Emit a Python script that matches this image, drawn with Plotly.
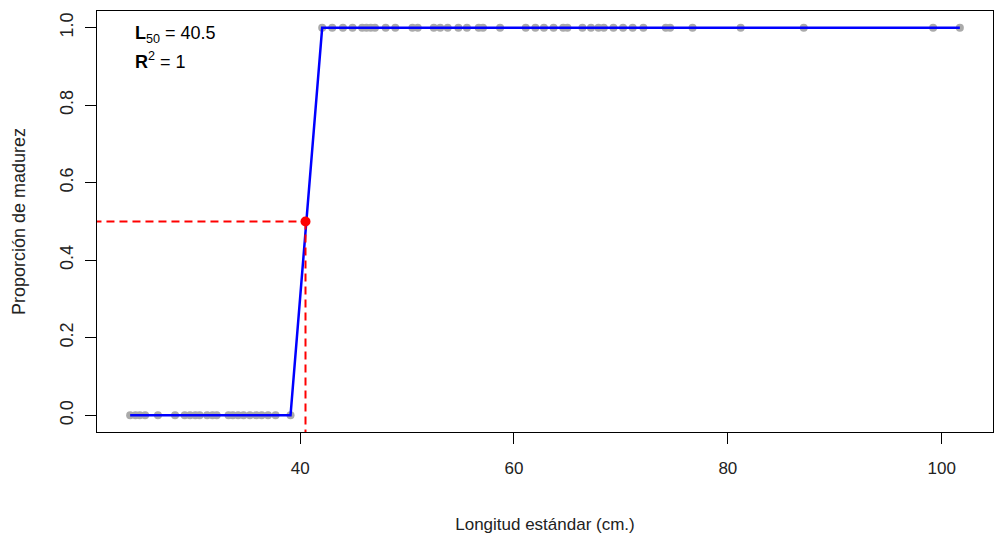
import plotly.graph_objects as go

# Standard length (cm) of immature (0) and mature (1) fish
immature_len = [24.1, 24.6, 25.0, 25.5, 26.7, 28.3, 29.2, 29.7, 30.2, 30.6, 31.3, 31.8, 32.2,
                33.3, 33.7, 34.2, 34.7, 35.3, 35.9, 36.4, 37.0, 37.7, 39.1]
mature_len = [42.06, 43.0, 44.0, 44.9, 45.8, 46.2, 46.6, 47.0, 48.0, 48.9, 50.5, 51.0, 52.5, 53.1,
              53.8, 54.8, 55.6, 56.7, 57.1, 58.7, 61.1, 62.0, 62.8, 63.7, 64.6, 65.0, 66.4, 67.2,
              67.9, 68.4, 69.3, 70.2, 71.1, 72.1, 74.2, 74.6, 76.7, 81.2, 87.1, 99.2, 101.7]
L50 = 40.5
R2 = 1

lengths = immature_len + mature_len
maturity = [0] * len(immature_len) + [1] * len(mature_len)

FONT = "Liberation Sans Narrow, Liberation Sans, Arial, sans-serif"
TXT = "#222222"

fig = go.Figure()
fig.add_trace(go.Scatter(x=lengths, y=maturity, mode="markers",
                         marker=dict(color="#aaaaaa", size=8), showlegend=False))
fig.add_trace(go.Scatter(x=lengths, y=maturity, mode="lines",
                         line=dict(color="#0000ff", width=2.5), showlegend=False))
# dashed reference lines (clipped to the plot area)
fig.add_trace(go.Scatter(x=[0, L50], y=[0.5, 0.5], mode="lines",
                         line=dict(color="#ff0000", width=2, dash="8px,5px"), showlegend=False))
fig.add_trace(go.Scatter(x=[L50, L50], y=[0.5, -1], mode="lines",
                         line=dict(color="#ff0000", width=2, dash="8px,5px"), showlegend=False))
fig.add_trace(go.Scatter(x=[L50], y=[0.5], mode="markers",
                         marker=dict(color="#ff0000", size=10), showlegend=False))

fig.add_annotation(xref="paper", yref="paper", x=0.040, y=0.945, xanchor="left", yanchor="middle",
                   text=f"<b>L</b><sub>50</sub> = {L50}", showarrow=False,
                   font=dict(family=FONT, size=18, color="#000"))
fig.add_annotation(xref="paper", yref="paper", x=0.040, y=0.882, xanchor="left", yanchor="middle",
                   text=f"<b>R</b><sup>2</sup> = {R2}", showarrow=False,
                   font=dict(family=FONT, size=18, color="#000"))

fig.update_layout(
    width=997, height=536,
    margin=dict(l=97, r=4, t=11, b=104),
    paper_bgcolor="white", plot_bgcolor="white",
    font=dict(family=FONT, size=16, color=TXT),
    xaxis=dict(range=[21.0, 104.8], tickvals=[40, 60, 80, 100], showgrid=False, zeroline=False,
               showline=True, mirror=True, linecolor="#000", linewidth=1,
               ticks="outside", ticklen=11, tickcolor="#000", automargin=False,
               tickfont=dict(size=17), ticklabelstandoff=10,
               title=dict(text="Longitud estándar (cm.)", standoff=40, font=dict(size=17))),
    yaxis=dict(range=[-0.043, 1.043], tickvals=[0, 0.2, 0.4, 0.6, 0.8, 1.0],
               ticktext=["0.0", "0.2", "0.4", "0.6", "0.8", "1.0"], tickangle=-90,
               showgrid=False, zeroline=False,
               showline=True, mirror=True, linecolor="#000", linewidth=1,
               ticks="outside", ticklen=11, tickcolor="#000", automargin=False,
               tickfont=dict(size=18), ticklabelstandoff=5,
               title=dict(text="Proporción de madurez", standoff=26, font=dict(size=18))),
)

fig.write_html("out.html", config={"displayModeBar": False},
               post_script="document.body.style.margin='0';document.body.style.overflow='hidden';")
